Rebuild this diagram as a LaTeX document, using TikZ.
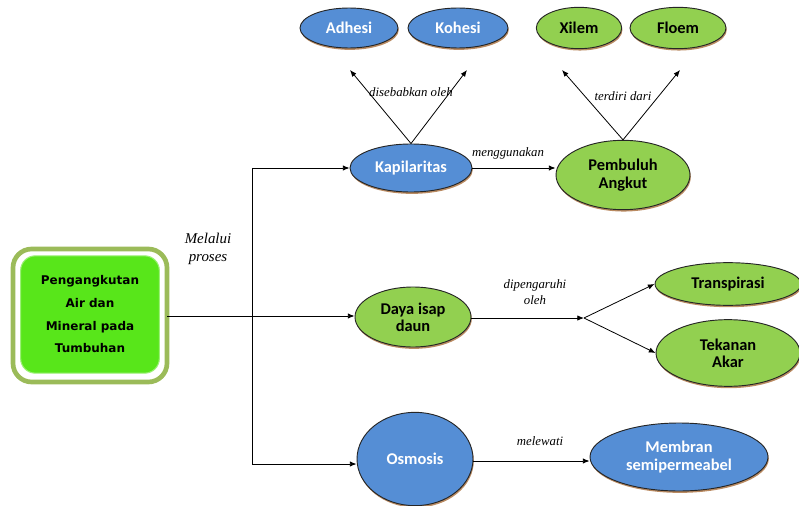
\documentclass[tikz,border=0pt]{standalone}
\usepackage{fontspec}
\setmainfont{Liberation Serif}
\newfontfamily\ellfont{Carlito}
\newfontfamily\boxfont{DejaVu Sans}
\usetikzlibrary{shapes.geometric,arrows.meta,shadows}
\definecolor{bluefill}{HTML}{558ED5}
\definecolor{greenfill}{HTML}{92D050}
\definecolor{boxgreen}{HTML}{58E61A}
\definecolor{boxring}{HTML}{9BBB59}
\definecolor{shadowc}{HTML}{9C5A20}
\tikzset{
  ell/.style={ellipse, draw=black!85, line width=0.7pt, inner sep=0pt, align=center,
    font=\ellfont\bfseries\fontsize{12.3}{13}\selectfont,
    drop shadow={shadow xshift=0.6pt, shadow yshift=-1.4pt, fill=shadowc, opacity=0.7}},
  blueell/.style={ell, fill=bluefill, text=white},
  greenell/.style={ell, fill=greenfill, text=black},
  conn/.style={line width=0.6pt, draw=black},
  arr/.style={conn, -{Latex[length=5pt,width=4pt]}},
  lbl/.style={font=\itshape\fontsize{9.6}{11}\selectfont, inner sep=0pt, align=center}
}
\begin{document}
\begin{tikzpicture}[x=0.75pt,y=-0.75pt]
\useasboundingbox (0,0) rectangle (799,506);
\clip (0,0) rectangle (799,506);
% main box
\draw[line width=3.5pt, draw=boxring, fill=white, rounded corners=14pt] (13,249) rectangle (167,382);
\node[draw=boxgreen!60!white, line width=0.8pt, fill=boxgreen, rounded corners=11pt,
  minimum width=104pt, minimum height=88pt, inner sep=0pt, align=center,
  font=\boxfont\bfseries\fontsize{9}{17}\selectfont] (main) at (90,314.5)
  {Pengangkutan\\Air dan\\Mineral pada\\Tumbuhan};
\coordinate (mainr) at (167,316);
% ellipses
\node[blueell, minimum width=91.5pt, minimum height=36pt] (kap) at (411,168) {Kapilaritas};
\node[blueell, minimum width=73.5pt, minimum height=30pt] (adh) at (349,28) {Adhesi};
\node[blueell, minimum width=75pt, minimum height=30pt] (koh) at (458,28) {Kohesi};
\node[greenell, minimum width=100.5pt, minimum height=52pt] (pem) at (623,175) {Pembuluh\\Angkut};
\node[greenell, minimum width=64pt, minimum height=31pt] (xil) at (579,28) {Xilem};
\node[greenell, minimum width=72pt, minimum height=31pt] (flo) at (678,28) {Floem};
\node[greenell, minimum width=87pt, minimum height=45pt] (day) at (413,317) {Daya isap\\daun};
\node[greenell, minimum width=109.5pt, minimum height=32pt] (tra) at (728,284) {Transpirasi};
\node[greenell, minimum width=108pt, minimum height=50pt] (tek) at (728,353) {Tekanan\\Akar};
\node[blueell, minimum width=87pt, minimum height=70pt] (osm) at (415,459) {Osmosis};
\node[blueell, minimum width=133.5pt, minimum height=51pt] (mem) at (679,457) {Membran\\semipermeabel};
% trunk
\coordinate (j) at (252,316);
\coordinate (jt) at (252,168);
\coordinate (jb) at (252,464);
\draw[conn] (mainr) -- (j);
\draw[conn] (jt) -- (jb);
\draw[arr] (jt) -- (kap.west);
\draw[arr] (j) -- (day.west |- j);
\draw[arr] (jb) -- (osm.west |- jb);
\node[lbl, font=\itshape\fontsize{11.2}{13.5}\selectfont] (mel) at (208,249) {Melalui\\proses};
% kapilaritas
\coordinate (a1) at (350,70);
\coordinate (a2) at (467,70);
\draw[arr] (kap.north) -- (a1);
\draw[arr] (kap.north) -- (a2);
\node[lbl] (dis) at (411,92) {disebabkan oleh};
\draw[arr] (kap.east) -- (pem.west |- kap.east);
\node[lbl] (men) at (508,153) {menggunakan};
% pembuluh
\coordinate (b1) at (562,70);
\coordinate (b2) at (680,70);
\draw[arr] (pem.north) -- (b1);
\draw[arr] (pem.north) -- (b2);
\node[lbl] (ter) at (623,96) {terdiri dari};
% daya isap
\coordinate (d) at (584,318);
\draw[arr] (day.east |- d) -- (d);
\node[lbl, font=\itshape\fontsize{9.6}{11.5}\selectfont] (dip) at (535,292) {dipengaruhi\\oleh};
\draw[arr] (d) -- (tra.west);
\draw[arr] (d) -- (tek.west);
% osmosis
\draw[arr] (osm.east |- 0,461) -- (mem.west |- 0,461);
\node[lbl] (mlw) at (540,441) {melewati};
\end{tikzpicture}
\end{document}
